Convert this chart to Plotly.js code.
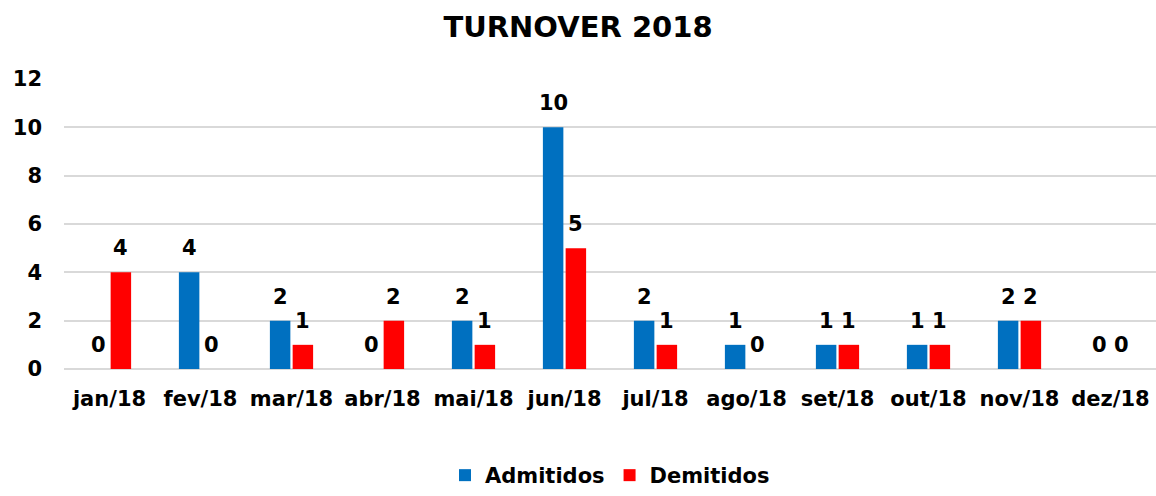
<!DOCTYPE html>
<html>
<head>
<meta charset="utf-8">
<script src="https://cdn.plot.ly/plotly-3.0.1.min.js"></script>
<style>html,body{margin:0;padding:0;background:#fff;}#chart{width:1156px;height:496px;}</style>
</head>
<body>
<div id="chart"></div>
<script>
const months = ["jan/18","fev/18","mar/18","abr/18","mai/18","jun/18","jul/18","ago/18","set/18","out/18","nov/18","dez/18"];
const admitidos = [0,4,2,0,2,10,2,1,1,1,2,0];
const demitidos = [4,0,1,2,1,5,1,0,1,1,2,0];
const yTicks = [0,2,4,6,8,10,12];

const FONT = "DejaVu Sans, Verdana, sans-serif";
const BLUE = "#0070C0", RED = "#FF0000";

const traces = [
  {type:"bar", name:"Admitidos", x:months, y:admitidos, marker:{color:BLUE}, hoverinfo:"none"},
  {type:"bar", name:"Demitidos", x:months, y:demitidos, marker:{color:RED}, hoverinfo:"none"}
];

const annotations = [];
months.forEach((m,i)=>{
  annotations.push({x:m, y:admitidos[i], xref:"x", yref:"y", text:String(admitidos[i]), showarrow:false,
    xshift:-11, yshift:10, yanchor:"bottom", font:{family:FONT, size:21, color:"#000", weight:"bold"}});
  annotations.push({x:m, y:demitidos[i], xref:"x", yref:"y", text:String(demitidos[i]), showarrow:false,
    xshift:11, yshift:10, yanchor:"bottom", font:{family:FONT, size:21, color:"#000", weight:"bold"}});
});

const layout = {
  width:1156, height:496,
  margin:{l:64, r:0, t:79, b:127},
  paper_bgcolor:"#fff", plot_bgcolor:"#fff",
  title:{text:"<b>TURNOVER 2018</b>", font:{family:FONT, size:29, color:"#000"}, x:0.5, xanchor:"center", y:0.945, yanchor:"middle", yref:"container"},
  barmode:"group", bargap:0.5, bargroupgap:0.1,
  showlegend:true,
  legend:{orientation:"h", x:0.5, xanchor:"center", xref:"paper", y:-0.017, yanchor:"bottom", yref:"container", font:{family:FONT, size:21, color:"#000", weight:"bold"}, itemwidth:30, traceorder:"normal"},
  xaxis:{type:"category", automargin:false, tickfont:{family:FONT, size:21, color:"#000", weight:"bold"}, ticks:"", ticklabelstandoff:15, showgrid:false, showline:false, zeroline:false, fixedrange:true},
  yaxis:{range:[0,12], automargin:false, tickvals:yTicks, ticktext:yTicks.map(String), tickfont:{family:FONT, size:21, color:"#000", weight:"bold"}, ticks:"", ticklabelstandoff:21,
    showgrid:true, gridcolor:"#D9D9D9", gridwidth:2, zeroline:true, zerolinecolor:"#D9D9D9", zerolinewidth:2, showline:false, fixedrange:true},
  annotations:annotations
};

Plotly.newPlot("chart", traces, layout, {displayModeBar:false, staticPlot:true});
</script>
</body>
</html>
